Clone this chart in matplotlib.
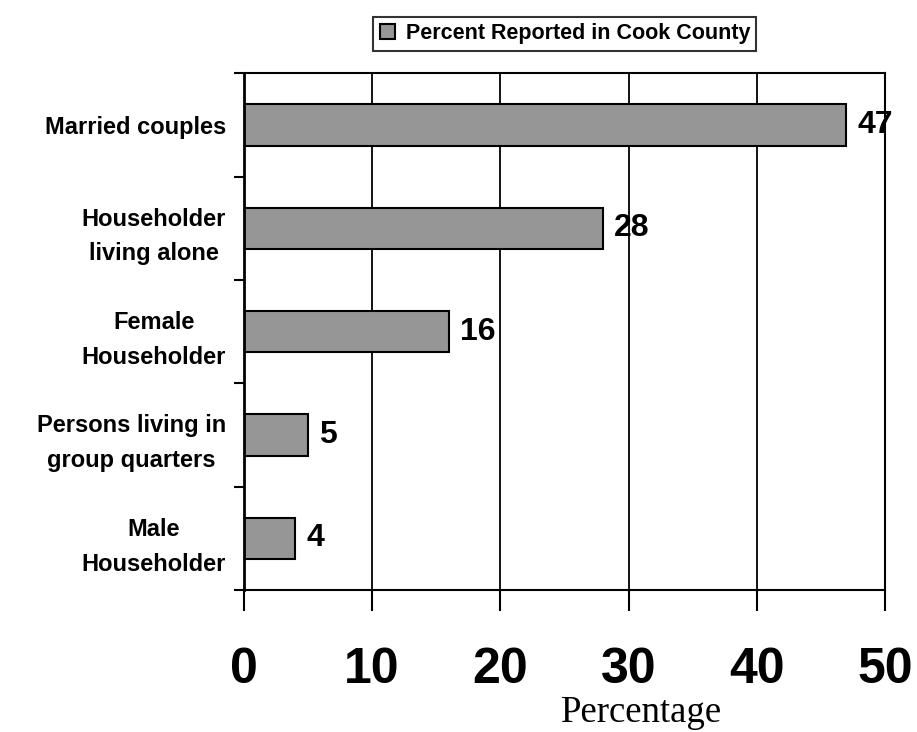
import numpy as np
import matplotlib
matplotlib.use("Agg")
import matplotlib.pyplot as plt
from matplotlib.ticker import FixedLocator

# household types in Cook County, percent
categories = ["Married couples", "Householder\nliving alone", "Female\nHouseholder",
              "Persons living in\ngroup quarters", "Male\nHouseholder"]
values = [47, 28, 16, 5, 4]
xticks = [0, 10, 20, 30, 40, 50]
legend_label = "Percent Reported in Cook County"

plt.rcParams['font.family'] = ['Liberation Sans', 'DejaVu Sans']

fig = plt.figure(figsize=(9.17, 7.32), dpi=100)
ax = fig.add_axes([0.266, 0.194, 0.699, 0.706])

pos = np.arange(len(categories))
bars = ax.barh(pos, values, height=0.4, color="#969696", edgecolor="black",
               linewidth=1.5, label=legend_label, zorder=2)

ax.set_xlim(0, 50)
ax.set_ylim(len(categories) - 0.5, -0.5)

# gridlines
ax.set_xticks(xticks)
ax.set_xticklabels([str(t) for t in xticks], fontsize=36, fontweight="bold")
ax.xaxis.grid(True, color="black", linewidth=1.3)
ax.set_axisbelow(True)
ax.tick_params(axis="x", direction="out", length=15, width=1.5, pad=26)

# labels at centers, ticks at boundaries
ax.set_yticks(pos)
ax.set_yticklabels(categories, fontsize=17, fontweight="bold", linespacing=1.65)
for lab in ax.get_yticklabels():
    lab.set_multialignment("center")
ax.tick_params(axis="y", which="major", length=0, pad=13)
ax.yaxis.set_minor_locator(FixedLocator(np.arange(-0.5, len(categories), 1.0)))
ax.tick_params(axis="y", which="minor", direction="out", length=7, width=1.5)

for sp in ax.spines.values():
    sp.set_linewidth(1.5)
ax.spines["left"].set_linewidth(2)

for b, v in zip(bars, values):
    ax.annotate(str(v), (v, b.get_y() + b.get_height() / 2), xytext=(8, 0),
                textcoords="offset points", ha="left", va="center",
                fontsize=23, fontweight="bold", zorder=1, annotation_clip=False)

fig.text(0.700, 0.014, "Percentage", fontsize=26.5, family="Liberation Serif",
         ha="center", va="baseline")

leg = fig.legend(loc="center", bbox_to_anchor=(0.616, 0.954), frameon=True,
                 prop={"weight": "bold", "size": 15.5}, handlelength=0.7,
                 handleheight=0.7, handletextpad=0.5, borderpad=0.3,
                 fancybox=False, edgecolor="black")
leg.get_frame().set_linewidth(1.5)

fig.savefig("out.png", dpi=100)
